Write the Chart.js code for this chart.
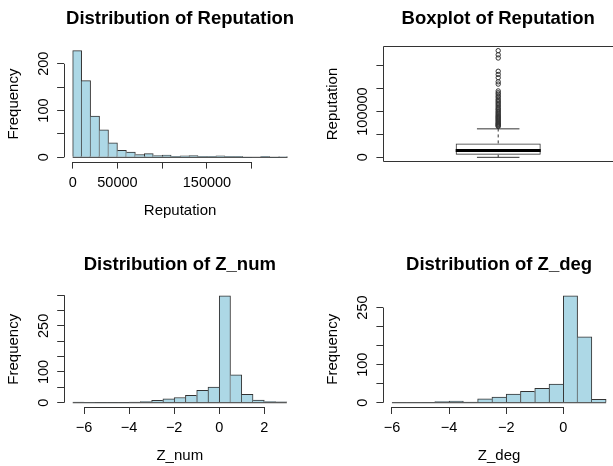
<!DOCTYPE html>
<html lang="en">
<head>
  <meta charset="UTF-8" />
  <title>Reputation, Z_num and Z_deg</title>
  <script src="https://cdn.jsdelivr.net/npm/chart.js"></script>
  <style>
    html, body { margin: 0; overflow: hidden; background: #fff; }
    .panel { position: absolute; }
  </style>
</head>
<body>
  <canvas id="repHist" class="panel" width="306" height="240" style="left:0;top:0"></canvas>
  <canvas id="repBox" class="panel" width="312" height="240" style="left:306px;top:0"></canvas>
  <canvas id="numHist" class="panel" width="306" height="240" style="left:0;top:233px"></canvas>
  <canvas id="degHist" class="panel" width="312" height="240" style="left:306px;top:233px"></canvas>

  <script>
    // Reputation histogram, bins of 10000
    const repBreaks = [0, 10000, 20000, 30000, 40000, 50000, 60000, 70000, 80000, 90000, 100000, 110000,
                       120000, 130000, 140000, 150000, 160000, 170000, 180000, 190000, 200000, 210000,
                       220000, 230000, 240000];
    const repCounts = [228, 164, 88, 59, 31, 15, 11, 6, 8, 4, 5, 2, 3, 4, 2, 2, 3, 2, 2, 0, 0, 2, 0, 1];
    const repTicks = [0, 50000, 100000, 150000, 200000];
    const repTickLabels = ['0', '50000', '', '150000', ''];
    const repFreqTicks = [0, 50, 100, 150, 200];
    const repFreqLabels = ['0', '', '100', '', '200'];

    // Reputation boxplot: lower whisker, Q1, median, Q3, upper whisker, then the points past the whisker
    const repBoxStats = [1, 5700, 15200, 30400, 62200];
    const repOutliers = [67500, 69000, 70500, 72000, 73500, 75000, 77000, 79000, 81000, 83000, 85000, 87000,
                         89000, 91000, 93500, 96000, 98500, 101000, 104000, 106000, 109000, 112000, 115000,
                         118000, 121000, 124000, 127000, 131000, 134000, 138000, 141000, 145000, 160000,
                         165000, 174000, 181000, 188000, 217000, 224000, 233000];
    const repBoxTicks = [0, 50000, 100000, 150000, 200000];
    const repBoxLabels = ['0', '', '100000', '', ''];

    // Z_num histogram, bins of 0.5
    const numBreaks = [-6.5, -6, -5.5, -5, -4.5, -4, -3.5, -3, -2.5, -2, -1.5, -1, -0.5, 0, 0.5, 1, 1.5, 2, 2.5, 3];
    const numCounts = [2, 0, 1, 1, 1, 2, 4, 8, 13, 17, 24, 40, 51, 348, 91, 27, 9, 4, 3];
    const numTicks = [-6, -4, -2, 0, 2];
    const numTickLabels = ['\u22126', '\u22124', '\u22122', '0', '2'];
    const numFreqTicks = [0, 50, 100, 150, 200, 250, 300, 350];
    const numFreqLabels = ['0', '', '100', '', '', '250', '', ''];

    // Z_deg histogram, bins of 0.5
    const degBreaks = [-6, -5.5, -5, -4.5, -4, -3.5, -3, -2.5, -2, -1.5, -1, -0.5, 0, 0.5, 1, 1.5];
    const degCounts = [1, 1, 1, 3, 4, 2, 10, 15, 23, 30, 38, 49, 281, 173, 9];
    const degTicks = [-6, -4, -2, 0];
    const degTickLabels = ['\u22126', '\u22124', '\u22122', '0'];
    const degFreqTicks = [0, 50, 100, 150, 200, 250];
    const degFreqLabels = ['0', '', '100', '', '', '250'];

    const FILL = '#add8e6';
    const INK = '#333';
    const AXIS_W = 60, AXIS_H = 60, TICK = 7;
    const BOX_WEX = 0.4;
    const TITLE_FONT = { size: 18.5, weight: 'bold', lineHeight: 1.2 };

    Chart.defaults.font.family = "'Liberation Sans', Arial, Helvetica, sans-serif";
    Chart.defaults.color = '#000';

    // plot region of each panel on the page [left, top, right, bottom] and the title centre line
    const panels = {
      repHist: { left: 0, top: 0, area: [64.1, 46.4, 296.1, 161.6], titleMid: 18.8, yPad: 0.9 },
      repBox: { left: 306, top: 0, area: [383.4, 46.4, 614.7, 161.6], titleMid: 18.8, yPad: -11.2 },
      numHist: { left: 0, top: 233, area: [64.2, 291.5, 295.4, 407], titleMid: 264.8, yPad: 0.9 },
      degHist: { left: 306, top: 233, area: [383.4, 291.5, 614.7, 407], titleMid: 264.8, yPad: 0.9 }
    };

    function layoutFor(canvas, p) {
      const [l, t, r, b] = p.area;
      const titleH = TITLE_FONT.size * TITLE_FONT.lineHeight;
      const padTop = p.titleMid - p.top - titleH / 2;
      return {
        padding: {
          left: l - p.left - AXIS_W,
          right: canvas.width - (r - p.left),
          top: padTop,
          bottom: canvas.height - (b - p.top) - AXIS_H
        },
        titleGap: (t - p.top) - padTop - titleH
      };
    }

    // R style: usr range is the data range plus 4% each side
    function pad4(lo, hi) {
      const d = (hi - lo) * 0.04;
      return [lo - d, hi + d];
    }

    // axis lines only run from first to last tick, like R's axis()
    const rAxes = {
      id: 'rAxes',
      afterDraw(chart, args, opts) {
        const { ctx, chartArea: a, scales: { x, y } } = chart;
        const px = v => Math.round(v) + 0.5;
        ctx.save();
        ctx.strokeStyle = INK;
        ctx.lineWidth = 1;
        ctx.beginPath();
        if (opts.frame) {
          ctx.rect(px(a.left), px(a.top), Math.round(a.right - a.left), Math.round(a.bottom - a.top));
        } else {
          const xt = x.ticks, yt = y.ticks;
          ctx.moveTo(x.getPixelForValue(xt[0].value), px(a.bottom));
          ctx.lineTo(x.getPixelForValue(xt[xt.length - 1].value), px(a.bottom));
          ctx.moveTo(px(a.left), y.getPixelForValue(yt[0].value));
          ctx.lineTo(px(a.left), y.getPixelForValue(yt[yt.length - 1].value));
        }
        ctx.stroke();
        ctx.restore();
      }
    };

    function xAxis([min, max], values, labels, title) {
      const show = labels.length > 0;
      return {
        type: 'linear', min, max, offset: false,
        afterBuildTicks: s => { s.ticks = values.map(v => ({ value: v })); },
        afterFit: s => { s.height = AXIS_H; },
        grid: { display: show, drawOnChartArea: false, tickLength: TICK, tickColor: INK, offset: false },
        border: { display: false },
        ticks: { display: show, autoSkip: false, maxRotation: 0, minRotation: 0, padding: 5.6,
                 font: { size: 14.5 }, callback: (v, i) => labels[i] },
        title: { display: !!title, text: title, font: { size: 15 }, padding: { top: 0, bottom: 2.2 } }
      };
    }

    function yAxis([min, max], values, labels, title, pad) {
      return {
        type: 'linear', min, max,
        afterBuildTicks: s => { s.ticks = values.map(v => ({ value: v })); },
        afterFit: s => { s.width = AXIS_W; },
        grid: { drawOnChartArea: false, tickLength: TICK, tickColor: INK },
        border: { display: false },
        ticks: { autoSkip: false, minRotation: 90, maxRotation: 90, crossAlign: 'center', padding: pad,
                 font: { size: 14.5 }, callback: (v, i) => labels[i] },
        title: { display: true, text: title, font: { size: 15 }, padding: { top: 0.5, bottom: 0 } }
      };
    }

    function baseOptions(lay, title, scales, frame) {
      return {
        responsive: false,
        animation: false,
        devicePixelRatio: 1,
        layout: { padding: lay.padding },
        plugins: {
          legend: { display: false },
          tooltip: { enabled: false },
          title: { display: true, text: title, fullSize: false, font: TITLE_FONT,
                   padding: { top: 0, bottom: lay.titleGap } },
          rAxes: { frame }
        },
        scales
      };
    }

    // neighbouring bars share one edge line: the taller one draws it
    function sharedEdges(counts, i) {
      if (i === undefined) return 1;
      const c = counts[i];
      const prev = i > 0 ? counts[i - 1] : -1;
      const next = i < counts.length - 1 ? counts[i + 1] : -1;
      return { top: 1, bottom: 0, left: prev <= c ? 1 : 0, right: next < c ? 1 : 0 };
    }

    function histogram(id, h) {
      const canvas = document.getElementById(id);
      const p = panels[id];
      const lay = layoutFor(canvas, p);
      const first = h.breaks[0], last = h.breaks[h.breaks.length - 1];
      const points = h.counts.map((c, i) => ({ x: (h.breaks[i] + h.breaks[i + 1]) / 2, y: c }));
      new Chart(canvas, {
        type: 'bar',
        data: {
          datasets: [
            {
              // the bottom edges of all the rectangles, as R draws them
              type: 'line',
              data: [{ x: first, y: 0 }, { x: last, y: 0 }],
              borderColor: INK,
              borderWidth: 1,
              pointRadius: 0,
              order: 0
            },
            {
              data: points,
              backgroundColor: FILL,
              borderColor: INK,
              borderSkipped: false,
              borderWidth: ctx => sharedEdges(h.counts, ctx.dataIndex),
              barPercentage: 1,
              categoryPercentage: 1,
              order: 1
            }
          ]
        },
        options: baseOptions(lay, h.title, {
          x: xAxis(pad4(first, last), h.xTicks, h.xLabels, h.xTitle),
          y: yAxis(pad4(0, Math.max(...h.counts)), h.yTicks, h.yLabels, 'Frequency', p.yPad)
        }, false),
        plugins: [rAxes]
      });
    }

    function boxplot(id) {
      const canvas = document.getElementById(id);
      const p = panels[id];
      const lay = layoutFor(canvas, p);
      const [lo, q1, med, q3, hi] = repBoxStats;
      const xr = pad4(0.5, 1.5);
      const yr = pad4(Math.min(lo, ...repOutliers), Math.max(hi, ...repOutliers));
      const at = 1, half = BOX_WEX / 2, cap = half / 2;
      const seg = (x0, y0, x1, y1) => [{ x: x0, y: y0 }, { x: x1, y: y1 }];
      const line = (data, extra) => Object.assign({
        type: 'line', data, borderColor: INK, borderWidth: 1, pointRadius: 0, fill: false
      }, extra);

      new Chart(canvas, {
        type: 'bar',
        data: {
          datasets: [
            line(seg(at - half, med, at + half, med), { borderWidth: 3, borderColor: '#000', order: 0 }),
            line(seg(at, q3, at, hi), { borderDash: [3, 3], order: 1 }),
            line(seg(at, lo, at, q1), { borderDash: [3, 3], order: 1 }),
            line(seg(at - cap, hi, at + cap, hi), { order: 1 }),
            line(seg(at - cap, lo, at + cap, lo), { order: 1 }),
            {
              type: 'scatter',
              data: repOutliers.map(v => ({ x: at, y: v })),
              pointRadius: 2.2,
              pointBorderWidth: 1,
              pointBorderColor: INK,
              pointBackgroundColor: 'rgba(0,0,0,0)',
              order: 2
            },
            {
              type: 'bar',
              data: [{ x: at, y: [q1, q3] }],
              backgroundColor: 'rgba(0,0,0,0)',
              borderColor: INK,
              borderWidth: 1,
              borderSkipped: false,
              barPercentage: BOX_WEX / (xr[1] - xr[0]),
              categoryPercentage: 1,
              order: 3
            }
          ]
        },
        options: baseOptions(lay, 'Boxplot of Reputation', {
          x: xAxis(xr, [at], [], ''),
          y: yAxis(yr, repBoxTicks, repBoxLabels, 'Reputation', p.yPad)
        }, true),
        plugins: [rAxes]
      });
    }

    histogram('repHist', {
      breaks: repBreaks, counts: repCounts,
      xTicks: repTicks, xLabels: repTickLabels, yTicks: repFreqTicks, yLabels: repFreqLabels,
      title: 'Distribution of Reputation', xTitle: 'Reputation'
    });
    boxplot('repBox');
    histogram('numHist', {
      breaks: numBreaks, counts: numCounts,
      xTicks: numTicks, xLabels: numTickLabels, yTicks: numFreqTicks, yLabels: numFreqLabels,
      title: 'Distribution of Z_num', xTitle: 'Z_num'
    });
    histogram('degHist', {
      breaks: degBreaks, counts: degCounts,
      xTicks: degTicks, xLabels: degTickLabels, yTicks: degFreqTicks, yLabels: degFreqLabels,
      title: 'Distribution of Z_deg', xTitle: 'Z_deg'
    });
  </script>
</body>
</html>
